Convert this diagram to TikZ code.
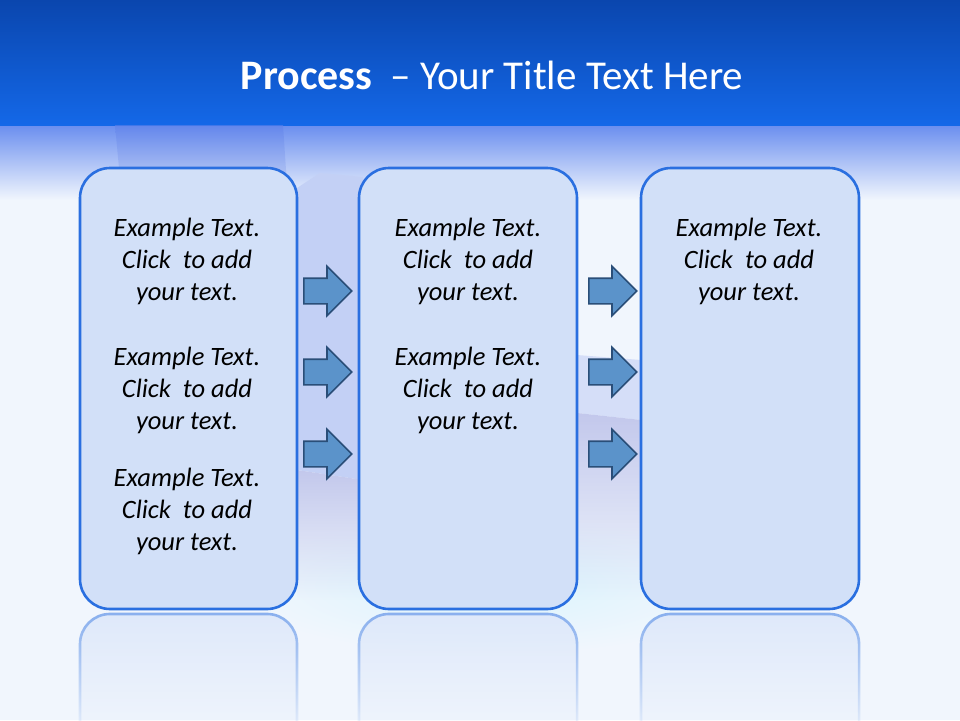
\documentclass[tikz,border=0pt]{standalone}
\usepackage{fontspec}
\setmainfont{Carlito}
\usepackage{tikz}
\usetikzlibrary{shapes.arrows}
\usetikzlibrary{fadings}
\usetikzlibrary{positioning}

\definecolor{titletop}{HTML}{0A46AE}
\definecolor{titlebot}{HTML}{1468E8}
\definecolor{fadetop}{HTML}{6A8EEF}
\definecolor{pagebg}{HTML}{F1F6FD}
\definecolor{boxfill}{HTML}{D2E0F8}
\definecolor{boxline}{HTML}{2A6FE0}
\definecolor{arrfill}{HTML}{5B93CA}
\definecolor{arrline}{HTML}{2A4E78}
\definecolor{blockblue}{HTML}{C3D0F5}
\definecolor{blocktop}{HTML}{5F82EA}
\definecolor{blocklav}{HTML}{C3C8EC}
\definecolor{glow}{HTML}{DAF4FD}

\begin{document}
\begin{tikzpicture}[x=1pt,y=-1pt,
    stepbox/.style={draw=boxline, line width=2.6pt, fill=boxfill, rounded corners=30pt},
    mirror/.style={draw=boxline!55, line width=2.6pt, fill=boxfill!70, path fading=south},
    procarrow/.style={single arrow, draw=arrline, line width=1.6pt, fill=arrfill, anchor=tail,
        inner sep=12pt, single arrow head extend=12pt, minimum height=48pt},
    bodytext/.style={align=center, font=\fontsize{26.5}{32}\selectfont\itshape}]
  \useasboundingbox (0,0) rectangle (960,720);

  % page and title band
  \fill[pagebg] (0,0) rectangle (960,720);
  \shade[top color=fadetop, bottom color=pagebg] (0,125) rectangle (960,200);
  \shade[inner color=glow, outer color=pagebg] (490,585) ellipse[x radius=260, y radius=70];
  \shade[top color=titletop, bottom color=titlebot] (0,0) rectangle (960,125);
  \node[text=white, font=\fontsize{41}{48}\selectfont] (title) at (492,75)
    {{\fontsize{42}{48}\selectfont\bfseries Process}\hspace{9pt} – Your Title Text Here};

  % faint blocks behind the boxes
  \shade[top color=blocktop, bottom color=blockblue, opacity=.6]
    (115,125) -- (283,125) -- (288,200) -- (122,200) -- cycle;
  \fill[blockblue] (297,188) -- (320,173) -- (363,177) -- (363,480) -- (297,470) -- cycle;
  \fill[blocklav, path fading=south] (297,470) -- (363,480) -- (363,600) -- (297,600) -- cycle;
  \fill[blockblue!70] (577,355) -- (641,360) -- (641,420) -- (577,413) -- cycle;
  \fill[blocklav, path fading=south] (577,413) -- (641,420) -- (641,600) -- (577,600) -- cycle;

  % reflections
  \begin{scope}
    \clip (0,612) rectangle (960,720);
    \foreach \xa/\xb in {80/297, 359/577, 641/859}
      \path[mirror] (\xa,740) -- (\xa,644) arc[start angle=180, end angle=270, radius=30]
        -- (\xb-30,614) arc[start angle=270, end angle=360, radius=30] -- (\xb,740);
  \end{scope}

  % boxes
  \node[stepbox, minimum width=217pt, minimum height=441pt] (b1) at (188.5,388.5) {};
  \node[stepbox, minimum width=218pt, minimum height=441pt] (b2) at (468,388.5) {};
  \node[stepbox, minimum width=218pt, minimum height=441pt] (b3) at (750,388.5) {};

  % texts
  \node[bodytext] (t11) at (187,261) {Example Text.\\Click~ to add\\your text.};
  \node[bodytext] (t12) at (187,390) {Example Text.\\Click~ to add\\your text.};
  \node[bodytext] (t13) at (187,511) {Example Text.\\Click~ to add\\your text.};
  \node[bodytext] (t21) at (468,261) {Example Text.\\Click~ to add\\your text.};
  \node[bodytext] (t22) at (468,390) {Example Text.\\Click~ to add\\your text.};
  \node[bodytext] (t31) at (749,261) {Example Text.\\Click~ to add\\your text.};

  % arrows
  \foreach \y [count=\i] in {291,372,454}{
    \node[procarrow] (p\i) at (303,\y) {};
    \node[procarrow] (q\i) at (588,\y) {};
  }
\end{tikzpicture}
\end{document}
